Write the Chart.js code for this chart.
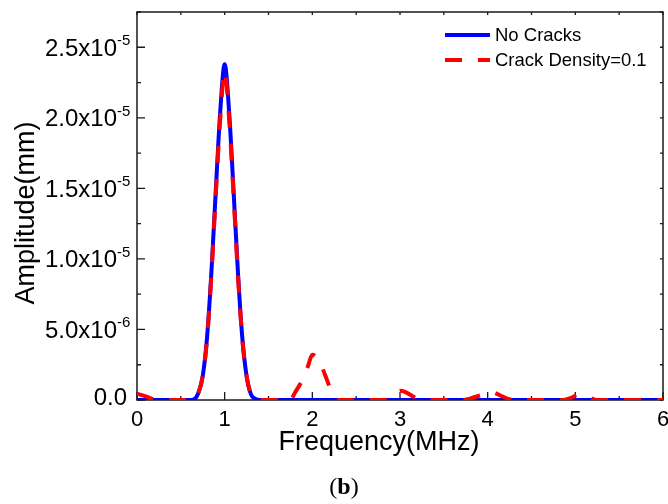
<!DOCTYPE html>
<html lang="en">
<head>
    <meta charset="UTF-8">
    <title>Amplitude vs Frequency</title>
    <script src="https://cdn.jsdelivr.net/npm/chart.js@4.4.1/dist/chart.umd.min.js"></script>
    <style>
        body { margin: 0; background: #fff; }
    </style>
</head>
<body>
<canvas id="spectrum" width="668" height="504"></canvas>
<script>
    // amplitudes are in units of 1e-5 mm
    const freqNoCracks = [0, 0.6, 0.65, 0.7, 0.75, 0.8, 0.85, 0.9, 0.95, 1.0, 1.05, 1.1, 1.15, 1.2, 1.25, 1.3, 1.35, 1.4, 6.0];
    const ampNoCracks = [0, 0, 0.005, 0.05, 0.17, 0.45, 0.92, 1.5, 2.05, 2.38, 2.05, 1.5, 0.92, 0.45, 0.17, 0.04, 0.008, 0, 0];

    const freqCrack = [0, 0.1, 0.2, 0.3,
        0.6, 0.65, 0.7, 0.75, 0.8, 0.85, 0.9, 0.95, 1.0, 1.05, 1.1, 1.15, 1.2, 1.25, 1.3, 1.35, 1.4,
        1.75, 1.8, 1.9, 1.95, 2.0, 2.05, 2.1, 2.15, 2.2, 2.25, 2.3,
        2.85, 2.95, 3.0, 3.05, 3.15, 3.25,
        3.7, 3.8, 3.9, 4.0, 4.05, 4.15, 4.25, 4.3,
        4.85, 4.95, 5.05, 5.15, 5.25, 6.0];
    const ampCrack = [0.045, 0.025, 0.003, 0,
        0, 0.005, 0.05, 0.17, 0.44, 0.9, 1.47, 2.0, 2.33, 2.0, 1.47, 0.9, 0.44, 0.17, 0.04, 0.005, 0,
        0, 0.05, 0.16, 0.24, 0.32, 0.3, 0.25, 0.17, 0.09, 0.03, 0,
        0, 0.045, 0.065, 0.06, 0.025, 0,
        0, 0.01, 0.03, 0.05, 0.055, 0.03, 0.005, 0,
        0, 0.015, 0.04, 0.02, 0, 0];

    const seriesNames = ['No Cracks', 'Crack Density=0.1'];
    const xTicks = [0, 1, 2, 3, 4, 5, 6];
    const yTicks = [0, 0.5, 1.0, 1.5, 2.0, 2.5];
    const yTickText = ['0.0', '5.0x10', '1.0x10', '1.5x10', '2.0x10', '2.5x10'];
    const yTickExp = ['', '-6', '-5', '-5', '-5', '-5'];

    function toPoints(xs, ys) {
        return xs.map((x, i) => ({x: x, y: ys[i]}));
    }

    const sans = '"Liberation Sans", Arial, sans-serif';
    const serif = '"Liberation Serif", "Times New Roman", serif';

    // frame + inward ticks, drawn under the curves
    const framePlugin = {
        id: 'frame',
        beforeDatasetsDraw(chart) {
            const {ctx, chartArea: a, scales: {x, y}} = chart;
            ctx.save();
            ctx.strokeStyle = '#1a1a1a';
            ctx.lineWidth = 1.5;
            ctx.strokeRect(a.left, a.top, a.right - a.left, a.bottom - a.top);
            ctx.lineWidth = 1.3;
            ctx.beginPath();
            for (let i = 0; i < xTicks.length; i++) {
                let px = x.getPixelForValue(xTicks[i]);
                ctx.moveTo(px, a.bottom); ctx.lineTo(px, a.bottom - 8);
                ctx.moveTo(px, a.top); ctx.lineTo(px, a.top + 3);
                if (i < xTicks.length - 1) {
                    let mx = x.getPixelForValue((xTicks[i] + xTicks[i + 1]) / 2);
                    ctx.moveTo(mx, a.bottom); ctx.lineTo(mx, a.bottom - 4);
                    ctx.moveTo(mx, a.top); ctx.lineTo(mx, a.top + 3);
                }
            }
            for (let i = 0; i < yTicks.length; i++) {
                let py = y.getPixelForValue(yTicks[i]);
                ctx.moveTo(a.left, py); ctx.lineTo(a.left + 8, py);
                ctx.moveTo(a.right, py); ctx.lineTo(a.right - 3, py);
                let my = y.getPixelForValue(yTicks[i] + 0.25);
                ctx.moveTo(a.left, my); ctx.lineTo(a.left + 4, my);
                ctx.moveTo(a.right, my); ctx.lineTo(a.right - 3, my);
            }
            ctx.stroke();
            ctx.restore();
        },
        afterDraw(chart) {
            const {ctx, scales: {x, y}} = chart;
            const ds = chart.data.datasets;
            ctx.save();
            ctx.fillStyle = '#000';

            // x tick labels
            ctx.font = '22px ' + sans;
            ctx.textAlign = 'center';
            ctx.textBaseline = 'middle';
            xTicks.forEach(v => ctx.fillText(String(v), x.getPixelForValue(v), 420));

            // y tick labels with superscript exponent
            ctx.textBaseline = 'alphabetic';
            yTicks.forEach((v, i) => {
                let py = y.getPixelForValue(v);
                if (yTickExp[i]) {
                    ctx.font = '15px ' + sans;
                    ctx.textAlign = 'left';
                    ctx.fillText(yTickExp[i], 117, py - 2);
                    ctx.font = '24px ' + sans;
                    ctx.textAlign = 'right';
                    ctx.fillText(yTickText[i], 117, py + 8.5);
                } else {
                    ctx.font = '24px ' + sans;
                    ctx.textAlign = 'right';
                    ctx.fillText(yTickText[i], 127, py + 5);
                }
            });

            // axis titles
            ctx.font = '27px ' + sans;
            ctx.textAlign = 'center';
            ctx.fillText('Frequency(MHz)', 379, 450);
            ctx.save();
            ctx.translate(34, 213);
            ctx.rotate(-Math.PI / 2);
            ctx.fillText('Amplitude(mm)', 0, 0);
            ctx.restore();

            // legend
            ctx.font = '18.5px ' + sans;
            ctx.textAlign = 'left';
            ctx.textBaseline = 'middle';
            [1, 0].forEach((k, row) => {
                let ly = 35 + row * 25;
                ctx.strokeStyle = ds[k].borderColor;
                ctx.lineWidth = ds[k].borderWidth;
                ctx.setLineDash(ds[k].borderDash || []);
                ctx.beginPath();
                ctx.moveTo(445, ly);
                ctx.lineTo(490, ly);
                ctx.stroke();
                ctx.setLineDash([]);
                ctx.fillText(ds[k].label, 495, ly + 1);
            });

            // caption
            ctx.textBaseline = 'alphabetic';
            ctx.textAlign = 'left';
            ctx.font = '24px ' + serif;
            let w1 = ctx.measureText('(').width;
            let w3 = ctx.measureText(')').width;
            ctx.font = 'bold 24px ' + serif;
            let w2 = ctx.measureText('b').width;
            let cx = 344 - (w1 + w2 + w3) / 2;
            ctx.font = '24px ' + serif;
            ctx.fillText('(', cx, 494);
            ctx.fillText(')', cx + w1 + w2, 494);
            ctx.font = 'bold 24px ' + serif;
            ctx.fillText('b', cx + w1, 494);
            ctx.restore();
        }
    };

    new Chart(document.getElementById('spectrum'), {
        type: 'line',
        data: {
            datasets: [{
                label: seriesNames[1],
                data: toPoints(freqCrack, ampCrack),
                borderColor: '#ff0000',
                borderWidth: 4,
                borderDash: [17, 16],
                borderCapStyle: 'butt',
                order: 0
            }, {
                label: seriesNames[0],
                data: toPoints(freqNoCracks, ampNoCracks),
                borderColor: '#0000ff',
                borderWidth: 4,
                order: 1
            }]
        },
        options: {
            responsive: false,
            devicePixelRatio: 1,
            animation: false,
            layout: {padding: {left: 137, top: 12, right: 5, bottom: 104}},
            elements: {
                point: {radius: 0},
                line: {cubicInterpolationMode: 'monotone', fill: false}
            },
            scales: {
                x: {type: 'linear', min: 0, max: 6, display: false},
                y: {type: 'linear', min: 0, max: 2.75, display: false}
            },
            plugins: {
                legend: {display: false},
                tooltip: {enabled: false}
            }
        },
        plugins: [framePlugin]
    });
</script>
</body>
</html>
